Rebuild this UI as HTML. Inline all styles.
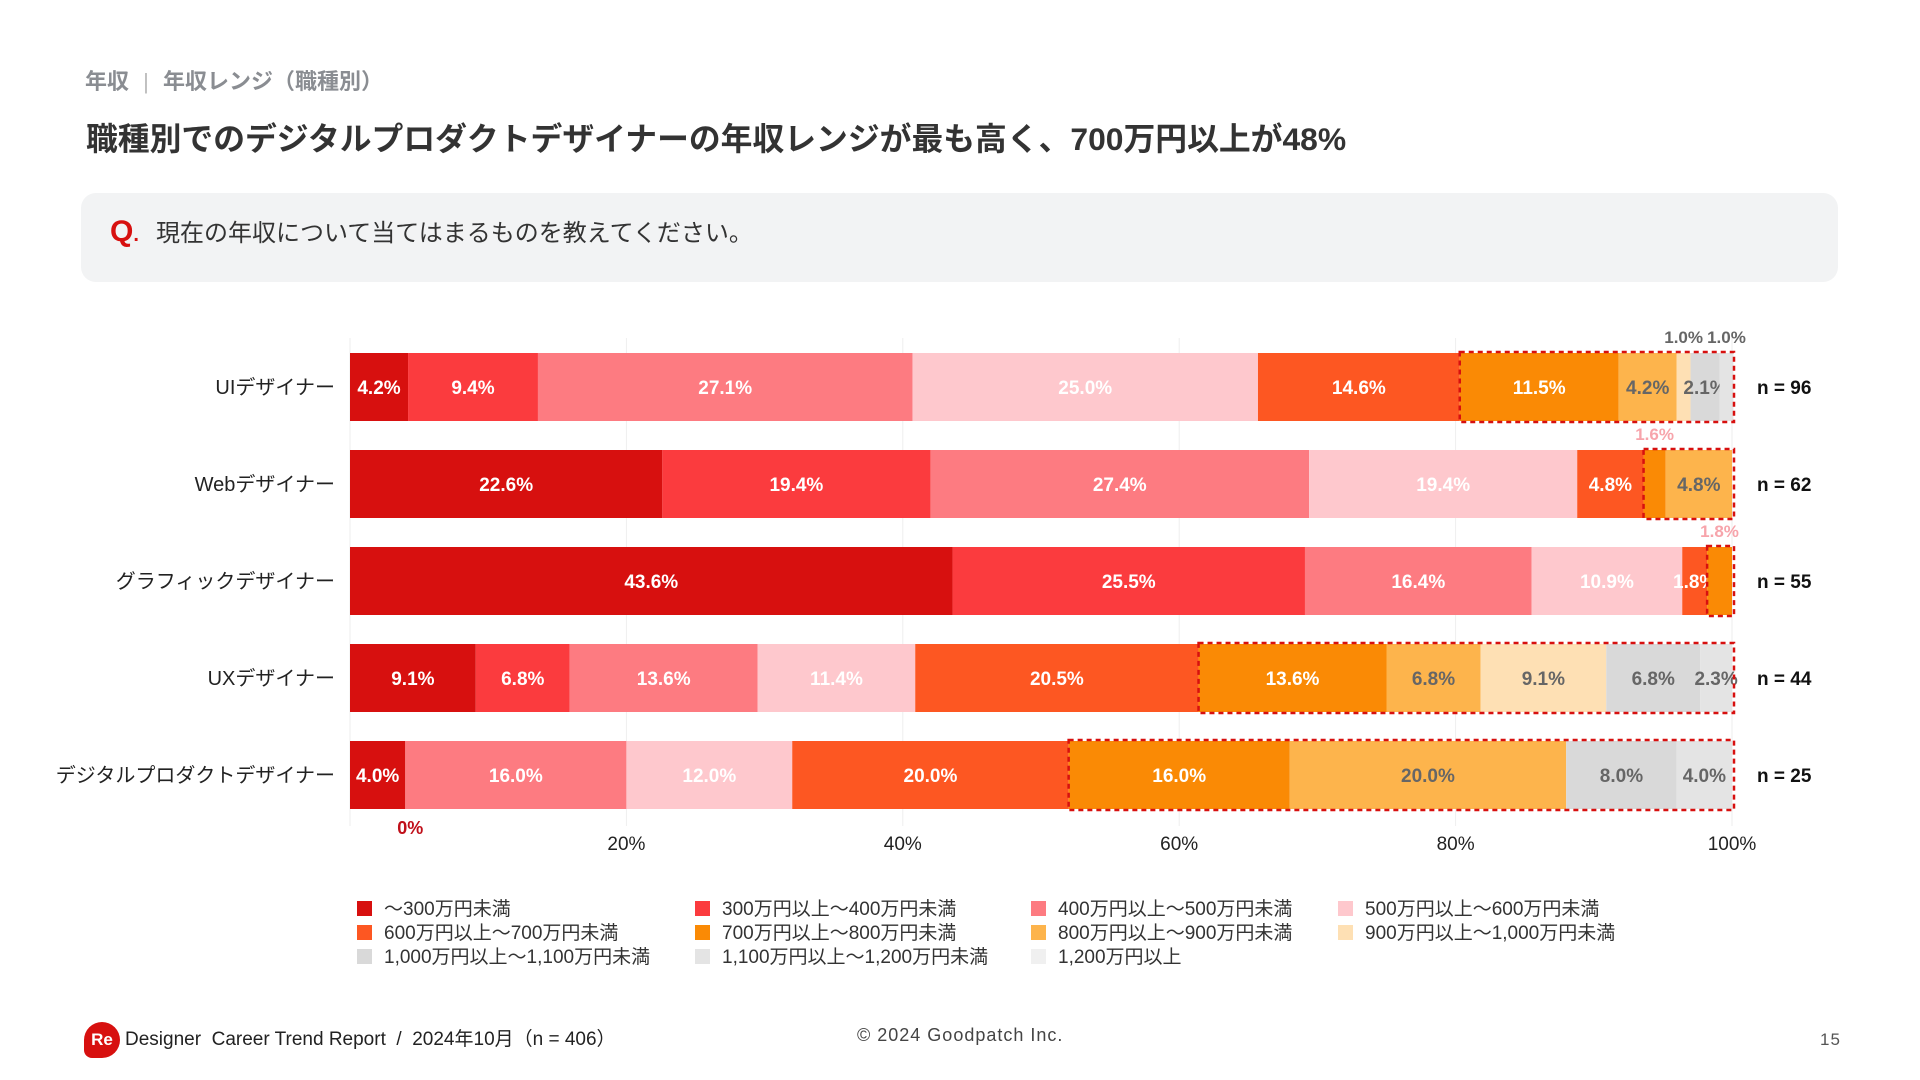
<!DOCTYPE html>
<html lang="ja"><head><meta charset="utf-8">
<style>
html,body{margin:0;padding:0;background:#fff;}
body{width:1920px;height:1080px;position:relative;overflow:hidden;font-family:"Liberation Sans","Noto Sans CJK JP",sans-serif;}
.abs{position:absolute;}
</style></head>
<body>
<div class="abs" style="left:85px;top:64px;font-size:22px;font-weight:bold;color:#8a8d92;">年収 <span style="font-weight:normal;color:#bbb;margin:0 8px;">|</span> 年収レンジ（職種別）</div>
<div class="abs" style="left:86px;top:114px;font-size:31.8px;font-weight:bold;color:#333;">職種別でのデジタルプロダクトデザイナーの年収レンジが最も高く、700万円以上が48%</div>
<div class="abs" style="left:81px;top:193px;height:89px;background:#f2f3f4;border-radius:15px;width:1757px;">
  <div class="abs" style="left:29px;top:22px;font-size:30px;font-weight:bold;color:#d7100f;">Q<span style="font-size:20px">.</span></div>
  <div class="abs" style="left:75px;top:20px;font-size:24px;color:#333;">現在の年収について当てはまるものを教えてください。</div>
</div>
<svg class="abs" style="left:0;top:0" width="1920" height="1080" id="chart"></svg>
<div class="abs" id="legend" style="left:0;top:0;"></div>
<div class="abs" style="left:84px;top:1022px;width:36px;height:36px;background:#d7100f;border-radius:50% 50% 50% 8px;color:#fff;font-weight:bold;font-size:17px;line-height:36px;text-align:center;">Re</div>
<div class="abs" style="left:125px;top:1024px;font-size:19px;color:#222;">Designer&nbsp; Career Trend Report &nbsp;/&nbsp; 2024年10月（n = 406）</div>
<div class="abs" style="left:857px;top:1025px;font-size:18px;color:#444;letter-spacing:1px;">© 2024 Goodpatch Inc.</div>
<div class="abs" style="left:1820px;top:1030px;font-size:17px;color:#555;letter-spacing:1px;">15</div>
<script>
const categories=["UIデザイナー","Webデザイナー","グラフィックデザイナー","UXデザイナー","デジタルプロダクトデザイナー"];
const nLabels=["n = 96","n = 62","n = 55","n = 44","n = 25"];
const seriesNames=["〜300万円未満","300万円以上〜400万円未満","400万円以上〜500万円未満","500万円以上〜600万円未満","600万円以上〜700万円未満","700万円以上〜800万円未満","800万円以上〜900万円未満","900万円以上〜1,000万円未満","1,000万円以上〜1,100万円未満","1,100万円以上〜1,200万円未満","1,200万円以上"];
const colors=["#d7100f","#fb3b3e","#fd7b81","#fec8cd","#fd5722","#fa8a05","#fdb44c","#fee0b4","#d9d9d9","#e4e4e4","#f0f0f0"];
const uiVals=[4.2,9.4,27.1,25.0,14.6,11.5,4.2,1.0,2.1,1.0,0];
const webVals=[22.6,19.4,27.4,19.4,4.8,1.6,4.8,0,0,0,0];
const graphicVals=[43.6,25.5,16.4,10.9,1.8,1.8,0,0,0,0,0];
const uxVals=[9.1,6.8,13.6,11.4,20.5,13.6,6.8,9.1,6.8,2.3,0];
const dpdVals=[4.0,0,16.0,12.0,20.0,16.0,20.0,0,8.0,4.0,0];
const tickValues=[0,20,40,60,80,100];
const tickLabels=["0%","20%","40%","60%","80%","100%"];

const rows=[uiVals,webVals,graphicVals,uxVals,dpdVals];
const NS="http://www.w3.org/2000/svg";
const svg=document.getElementById('chart');
const X0=350,X1=1732,Y0=353,PITCH=97,BH=68;
const x=v=>X0+(X1-X0)*v/100;
const yRow=i=>Y0+i*PITCH;
function el(tag,attrs){const e=document.createElementNS(NS,tag);for(const k in attrs)e.setAttribute(k,attrs[k]);svg.appendChild(e);return e;}
tickValues.forEach((t,i)=>{
  const g=el('line',{x1:x(t),x2:x(t),y1:338,y2:826,stroke:'#eeeeee','stroke-width':1});
  
  
  if(i===0)return;
  const tx=el('text',{x:x(t),y:850,'text-anchor':'middle','font-size':19,fill:'#222'});
  tx.textContent=tickLabels[i];
  
  
});
rows.forEach((vals,r)=>{
  const y=yRow(r);
  const cl=el('text',{x:335,y:y+BH/2+7,'text-anchor':'end','font-size':20,fill:'#222'});
  cl.textContent=categories[r];
  
  
  let acc=0,boxStart=null;
  vals.forEach((v,i)=>{
    const xs=x(acc),xe=x(acc+v);
    if(i===5)boxStart=xs;
    if(v>0){
      const rc=el('rect',{x:xs,y:y,width:xe-xs,height:BH,fill:colors[i]});
      
      
      const lab=v.toFixed(1)+'%';
      let tx;
      if(v<2&&i>=5){
        tx=el('text',{x:(xs+xe)/2,y:y-10,'text-anchor':'middle','font-size':17,'font-weight':'bold',fill:i===5?'#f7a4ab':'#666'});
      }else{
        tx=el('text',{x:(xs+xe)/2,y:y+BH/2+7,'text-anchor':'middle','font-size':19,'font-weight':'bold',fill:i>=6?'#666':'#fff'});
      }
      tx.textContent=lab;
      
      
    }else if(i===1){
      const tz=el('text',{x:xs+5,y:y+BH+25,'text-anchor':'middle','font-size':18,'font-weight':'bold',fill:'#c0101a'});
      tz.textContent='0%';
      
      
    }
    acc+=v;
  });
  const bx=el('rect',{x:boxStart,y:y-1,width:x(100)-boxStart+2,height:BH+2,fill:'none',stroke:'#d7100f','stroke-width':2.5,'stroke-dasharray':'5 4'});
  
  
  const nl=el('text',{x:1757,y:y+BH/2+7,'font-size':19,'font-weight':'bold',fill:'#111'});
  nl.textContent=nLabels[r];
  
  
});
const lg=document.getElementById('legend');
const colX=[357,695,1031,1338],rowY=[899,923,947];
seriesNames.forEach((s,i)=>{
  const d=document.createElement('div');
  
  
  d.style.cssText=`position:absolute;left:${colX[i%4]}px;top:${rowY[Math.floor(i/4)]}px;font-size:19px;color:#333;white-space:nowrap;line-height:22px;`;
  d.innerHTML=`<span style="display:inline-block;width:15px;height:15px;background:${colors[i]};vertical-align:-1px;margin-right:12px;"></span>${s}`;
  lg.appendChild(d);
});
</script>
</body></html>
